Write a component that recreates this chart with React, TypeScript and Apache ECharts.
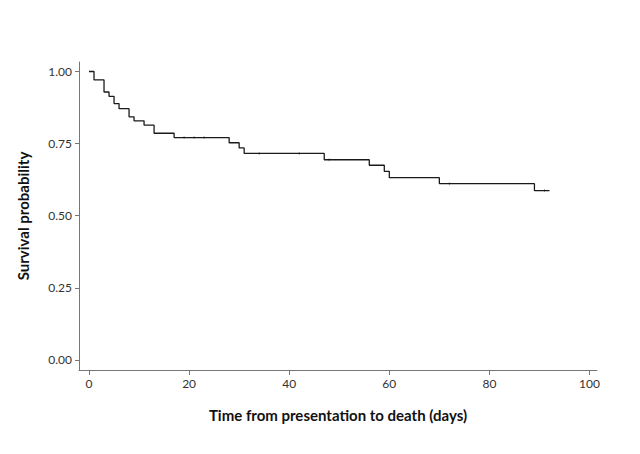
import React, { useEffect, useRef } from "react";
import * as echarts from "echarts";

// Kaplan-Meier step points: time (days) and survival probability after each drop
const stepTimes = [0, 1, 3, 4, 5, 6, 8, 9, 11, 13, 17, 28, 30, 31, 47, 56, 59, 60, 70, 89, 92];
const stepSurvival = [1, 0.971, 0.929, 0.914, 0.889, 0.871, 0.843, 0.829, 0.814, 0.786, 0.771, 0.753, 0.735, 0.716, 0.694, 0.675, 0.654, 0.632, 0.611, 0.587, 0.587];

// censoring times (small tick marks on the curve)
const censorTimes = [19, 21, 23, 34, 42, 48, 72, 91];

const xTicks = [0, 20, 40, 60, 80, 100];
const yTicks = [0, 0.25, 0.5, 0.75, 1];

const xTitle = "Time from presentation to death (days)";
const yTitle = "Survival probability";

function survivalAt(t: number): number {
  let s = stepSurvival[0];
  for (let i = 0; i < stepTimes.length; i++) {
    if (stepTimes[i] <= t) s = stepSurvival[i];
  }
  return s;
}

export default function App() {
  const ref = useRef<HTMLDivElement>(null);
  useEffect(() => {
    document.body.style.margin = "0";
    if (!ref.current) return;
    const chart = echarts.init(ref.current, null, { renderer: "svg" });
    const font = "Lato";
    chart.setOption({
      animation: false,
      backgroundColor: "#ffffff",
      grid: { left: 79, right: 43, top: 62, bottom: 84, containLabel: false },
      xAxis: {
        type: "value",
        min: -2,
        max: 101.5,
        name: xTitle,
        nameLocation: "middle",
        nameGap: 37,
        nameTextStyle: { fontFamily: font, fontWeight: "bold", fontSize: 15, color: "#111" },
        splitLine: { show: false },
        axisLine: { show: true, onZero: false, lineStyle: { color: "#777", width: 1 } },
        axisTick: { show: true, length: 5, customValues: xTicks, lineStyle: { color: "#777" } },
        axisLabel: { customValues: xTicks, fontFamily: font, fontSize: 12, color: "#333", margin: 7 },
      },
      yAxis: {
        type: "value",
        min: -0.035,
        max: 1.033,
        name: yTitle,
        nameLocation: "middle",
        nameGap: 49,
        nameRotate: 90,
        nameTextStyle: { fontFamily: font, fontWeight: "bold", fontSize: 15, color: "#111" },
        splitLine: { show: false },
        axisLine: { show: true, onZero: false, lineStyle: { color: "#777", width: 1 } },
        axisTick: { show: true, length: 4, customValues: yTicks, lineStyle: { color: "#777" } },
        axisLabel: {
          customValues: yTicks,
          fontFamily: font,
          fontSize: 12,
          color: "#333",
          margin: 7,
          formatter: (v: number) => v.toFixed(2),
        },
      },
      series: [
        {
          type: "line",
          step: "end",
          data: stepTimes.map((t, i) => [t, stepSurvival[i]]),
          showSymbol: false,
          symbol: "none",
          lineStyle: { color: "#1a1a1a", width: 1.3 },
        },
        {
          type: "scatter",
          data: censorTimes.map((t) => [t, survivalAt(t)]),
          symbol: "rect",
          symbolSize: [1, 3],
          itemStyle: { color: "#888" },
        },
      ],
    });
    return () => chart.dispose();
  }, []);
  return (
    <div
      ref={ref}
      style={{ position: "fixed", left: 0, top: 0, width: 640, height: 454, background: "#fff" }}
    />
  );
}
